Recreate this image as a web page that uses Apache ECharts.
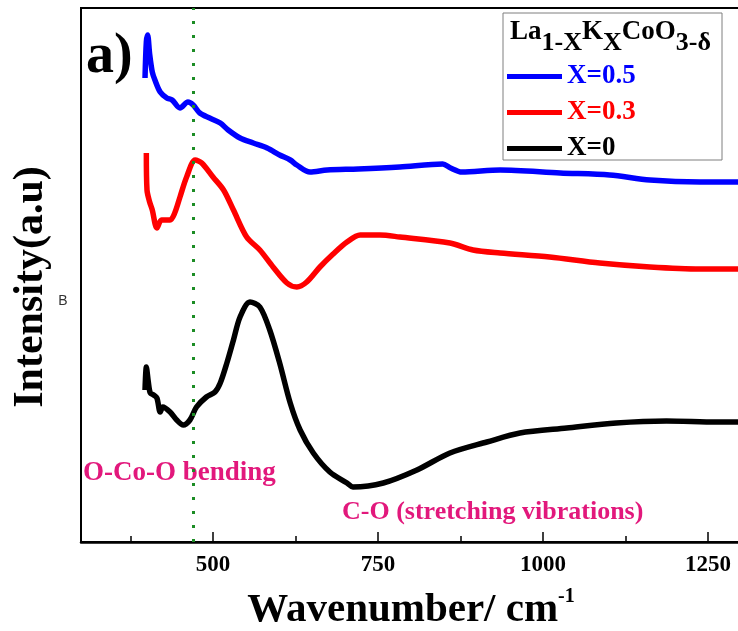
<!DOCTYPE html>
<html>
<head>
<meta charset="utf-8">
<title>La1-xKxCoO3 FTIR</title>
<script src="https://cdn.jsdelivr.net/npm/echarts@6/dist/echarts.min.js"></script>
<style>
	html, body { margin: 0; padding: 0; background: #fff; }
	#main { width: 738px; height: 631px; }
</style>
</head>
<body>
<div id="main"></div>
<script type="text/javascript">
	var serif = "'Times New Roman', 'Liberation Serif', serif";
	var pink = '#e2187c';

	// X = 0.5 (blue)
	var wave05 = [397, 399, 401, 404, 408, 412, 420, 430, 438, 450, 462, 470, 480, 495, 511, 523, 541, 561, 582, 601, 617, 627, 647, 673, 720, 783, 848, 860, 877, 935, 1026, 1101, 1162, 1238, 1300];
	var int05 = [464, 500, 507, 488, 470, 462, 450, 444, 442, 434, 440, 437, 429, 424, 419, 412, 404, 399, 394, 387, 382, 377, 370, 372, 373, 375, 378, 374, 370, 372, 369, 367, 362, 360, 360];

	// X = 0.3 (red)
	var wave03 = [399, 400, 404, 408, 415, 422, 435, 442, 450, 460, 473, 483, 500, 516, 531, 551, 571, 591, 612, 627, 642, 662, 682, 703, 723, 753, 783, 859, 894, 935, 1010, 1086, 1162, 1238, 1300];
	var int03 = [389, 352, 340, 332, 314, 322, 322, 329, 345, 365, 382, 379, 365, 352, 332, 305, 292, 275, 259, 255, 260, 275, 288, 300, 307, 307, 305, 299, 292, 289, 285, 279, 275, 273, 273];

	// X = 0 (black)
	var wave0 = [397, 399, 402, 405, 410, 415, 420, 424, 435, 445, 455, 465, 475, 490, 503, 511, 521, 531, 541, 556, 571, 586, 601, 617, 632, 652, 677, 703, 712, 758, 809, 859, 915, 965, 1036, 1111, 1187, 1263, 1300];
	var int0 = [152, 175, 160, 149, 147, 144, 130, 135, 130, 122, 117, 122, 135, 145, 150, 159, 179, 202, 225, 240, 235, 212, 179, 139, 112, 89, 70, 59, 55, 59, 72, 89, 100, 109, 114, 119, 121, 120, 120];

	var majorTicks = [500, 750, 1000, 1250];
	var minorTicks = [375, 625, 875, 1125];
	var bendingLine = 470;

	function pairs(xs, ys) {
		var out = [];
		for (var i = 0; i < xs.length; i++) {
			out.push([xs[i], ys[i]]);
		}
		return out;
	}

	function lineSeries(name, color, xs, ys) {
		return {
			name: name,
			type: 'line',
			xAxisIndex: 0,
			data: pairs(xs, ys),
			symbol: 'none',
			smooth: 0.3,
			color: color,
			lineStyle: { color: color, width: 5.5 },
			z: 3
		};
	}

	var myChart = echarts.init(document.getElementById('main'));

	var blackSeries = lineSeries('X=0', '#000000', wave0, int0);
	// dotted guide at the O-Co-O band
	blackSeries.markLine = {
		silent: true,
		symbol: 'none',
		label: { show: false },
		lineStyle: { color: '#1c8c24', type: [3, 11], width: 3 },
		data: [{ xAxis: bendingLine }]
	};

	var option = {
		animation: false,
		backgroundColor: '#ffffff',
		grid: {
			left: 81, right: -3, top: 8, bottom: 89,
			outerBoundsMode: 'none',
			show: true, borderColor: '#000', borderWidth: 2
		},
		legend: {
			orient: 'vertical',
			left: 507, top: 63,
			padding: 0,
			icon: 'rect',
			itemWidth: 55, itemHeight: 5, itemGap: 9,
			textStyle: { fontFamily: serif, fontWeight: 'bold', fontSize: 27, lineHeight: 26 },
			data: [
				{ name: 'X=0.5', textStyle: { color: '#0000ff' } },
				{ name: 'X=0.3', textStyle: { color: '#ff0000' } },
				{ name: 'X=0', textStyle: { color: '#000000' } }
			]
		},
		xAxis: [
			{
				type: 'value', min: 300, max: 1300,
				name: '{a|Wavenumber/ cm}{b|-1}',
				nameLocation: 'middle', nameGap: 45,
				nameTextStyle: {
					rich: {
						a: { fontFamily: serif, fontWeight: 'bold', fontSize: 41, lineHeight: 44, color: '#000', verticalAlign: 'bottom' },
						b: { fontFamily: serif, fontWeight: 'bold', fontSize: 20, lineHeight: 20, color: '#000', verticalAlign: 'top' }
					}
				},
				axisLine: { lineStyle: { color: '#000', width: 2.5 } },
				axisTick: { inside: true, length: 10, customValues: majorTicks, lineStyle: { color: '#000', width: 1.5 } },
				axisLabel: {
					customValues: majorTicks,
					formatter: function (v) { return String(v); },
					fontFamily: serif, fontWeight: 'bold', fontSize: 23, color: '#000', margin: 12
				},
				splitLine: { show: false }
			},
			{
				type: 'value', min: 300, max: 1300, position: 'bottom',
				axisLine: { show: false },
				axisTick: { inside: true, length: 6, customValues: minorTicks, lineStyle: { color: '#000', width: 1.5 } },
				axisLabel: { show: false },
				splitLine: { show: false }
			}
		],
		yAxis: {
			type: 'value', min: 0, max: 534,
			axisLine: { show: true, lineStyle: { color: '#000', width: 2 } },
			axisTick: { show: false },
			axisLabel: { show: false },
			splitLine: { show: false }
		},
		graphic: [
			{
				type: 'rect', z: 1,
				shape: { x: 503, y: 13, width: 219, height: 147 },
				style: { fill: '#ffffff', stroke: '#7f7f7f', lineWidth: 1 }
			},
			{
				type: 'text', x: 510, y: 19, z: 5,
				style: {
					text: '{n|La}{s|1-X}{n|K}{s|X}{n|CoO}{s|3-δ}',
					rich: {
						n: { fontFamily: serif, fontWeight: 'bold', fontSize: 27, lineHeight: 26, fill: '#000', verticalAlign: 'top' },
						s: { fontFamily: serif, fontWeight: 'bold', fontSize: 26, lineHeight: 26, padding: [11, 0, 0, 0], fill: '#000', verticalAlign: 'top' }
					}
				}
			},
			{
				type: 'text', x: 86, y: 30, z: 5,
				style: { text: 'a)', font: 'bold 56px ' + serif, fill: '#000' }
			},
			{
				type: 'text', x: 83, y: 473, z: 5,
				style: { text: 'O-Co-O bending', font: 'bold 27px ' + serif, fill: pink, verticalAlign: 'middle' }
			},
			{
				type: 'text', x: 342, y: 512, z: 5,
				style: { text: 'C-O (stretching vibrations)', font: 'bold 26px ' + serif, fill: pink, verticalAlign: 'middle' }
			},
			{
				type: 'text', x: 31, y: 287, rotation: Math.PI / 2, z: 5,
				style: { text: 'Intensity(a.u)', font: 'bold 42px ' + serif, fill: '#000', align: 'center', verticalAlign: 'middle' }
			},
			{
				type: 'text', x: 63, y: 301, z: 5,
				style: { text: 'B', font: '14px sans-serif', fill: '#333', align: 'center', verticalAlign: 'middle' }
			}
		],
		series: [
			lineSeries('X=0.5', '#0000ff', wave05, int05),
			lineSeries('X=0.3', '#ff0000', wave03, int03),
			blackSeries
		]
	};
	myChart.setOption(option);
</script>
</body>
</html>
